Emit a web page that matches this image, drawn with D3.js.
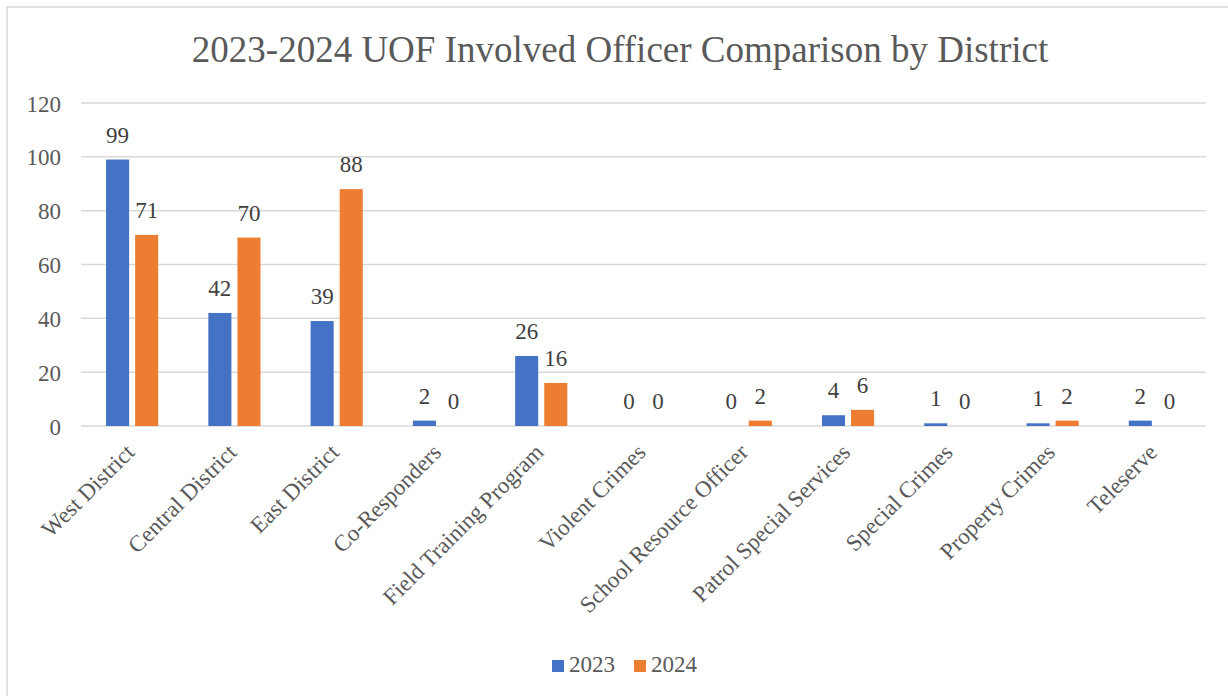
<!DOCTYPE html>
<html>
<head>
<meta charset="utf-8">
<script src="https://cdn.jsdelivr.net/npm/d3@7"></script>
<style>
  html, body { margin: 0; padding: 0; background: #fff; }
  svg { display: block; }
  text { font-family: "Liberation Serif", "Times New Roman", Tinos, "DejaVu Serif", serif; }
</style>
</head>
<body>
<svg id="chart" width="1228" height="696"></svg>
<script>
const title = "2023-2024 UOF Involved Officer Comparison by District";
const categories = ["West District", "Central District", "East District", "Co-Responders",
  "Field Training Program", "Violent Crimes", "School Resource Officer",
  "Patrol Special Services", "Special Crimes", "Property Crimes", "Teleserve"];
const seriesNames = ["2023", "2024"];
const values2023 = [99, 42, 39, 2, 26, 0, 0, 4, 1, 1, 2];
const values2024 = [71, 70, 88, 0, 16, 0, 2, 6, 0, 2, 0];
const yTicks = [0, 20, 40, 60, 80, 100, 120];
const colors = ["#4472C4", "#ED7D31"];

const seriesValues = [values2023, values2024];

const svg = d3.select("#chart");

// chart border
svg.append("rect")
  .attr("x", 7).attr("y", 7)
  .attr("width", 1240).attr("height", 720)
  .attr("fill", "#fff").attr("stroke", "#d9d9d9").attr("stroke-width", 1.5);

// title
svg.append("text")
  .attr("x", 620).attr("y", 62)
  .attr("text-anchor", "middle")
  .attr("font-size", 37)
  .attr("fill", "#595959")
  .text(title);

const plotLeft = 81, plotRight = 1206, plotTop = 103, plotBottom = 426;

const x = d3.scaleBand().domain(categories).range([plotLeft, plotRight])
  .paddingInner(0.49).paddingOuter(0.245);
const x1 = d3.scaleBand().domain(seriesNames).range([0, x.bandwidth()])
  .paddingInner(0.2069).paddingOuter(0);
const y = d3.scaleLinear().domain([0, 120]).range([plotBottom, plotTop]);

// gridlines
svg.append("g").selectAll("line").data(yTicks).join("line")
  .attr("x1", plotLeft).attr("x2", plotRight)
  .attr("y1", d => y(d)).attr("y2", d => y(d))
  .attr("stroke", "#d9d9d9").attr("stroke-width", 1.5);

// y axis labels
const yAxis = d3.axisLeft(y).tickValues(yTicks).tickSize(0).tickPadding(0);
const gy = svg.append("g").attr("transform", `translate(${plotLeft - 20},0)`).call(yAxis);
gy.select(".domain").remove();
gy.attr("font-family", null).attr("font-size", null);
gy.selectAll("text")
  .attr("font-size", 23).attr("fill", "#595959")
  .attr("dy", "0.35em");

// bars
const groups = svg.append("g").selectAll("g").data(categories).join("g")
  .attr("transform", d => `translate(${x(d)},0)`);

groups.selectAll("rect")
  .data((c, i) => seriesNames.map((s, j) => ({ s, j, v: seriesValues[j][i] })))
  .join("rect")
  .attr("x", d => x1(d.s))
  .attr("width", x1.bandwidth())
  .attr("y", d => y(d.v))
  .attr("height", d => y(0) - y(d.v))
  .attr("fill", d => colors[d.j]);

// data labels
groups.selectAll("text.lbl")
  .data((c, i) => seriesNames.map((s, j) => ({ s, j, v: seriesValues[j][i] })))
  .join("text")
  .attr("class", "lbl")
  .attr("x", d => x1(d.s) + x1.bandwidth() / 2)
  .attr("y", d => y(d.v) - 17)
  .attr("text-anchor", "middle")
  .attr("font-size", 23).attr("fill", "#404040")
  .text(d => d.v);

// x axis labels (rotated)
const xAxis = d3.axisBottom(x).tickSize(0).tickPadding(0);
const gx = svg.append("g").attr("transform", `translate(0,${plotBottom})`).call(xAxis);
gx.select(".domain").remove();
gx.attr("font-family", null).attr("font-size", null);
gx.selectAll(".tick text")
  .attr("font-size", 23).attr("fill", "#595959")
  .attr("text-anchor", "end")
  .attr("x", 0).attr("y", 0).attr("dy", 0)
  .attr("transform", "translate(-2,22) rotate(-45) translate(0,8)");

// legend
const legendItems = [
  { name: seriesNames[0], color: colors[0], x: 552 },
  { name: seriesNames[1], color: colors[1], x: 634 }
];
const lg = svg.append("g").selectAll("g").data(legendItems).join("g")
  .attr("transform", d => `translate(${d.x},660)`);
lg.append("rect").attr("width", 12).attr("height", 12).attr("fill", d => d.color);
lg.append("text").attr("x", 17).attr("y", 12)
  .attr("font-size", 23).attr("fill", "#595959")
  .text(d => d.name);
</script>
</body>
</html>
